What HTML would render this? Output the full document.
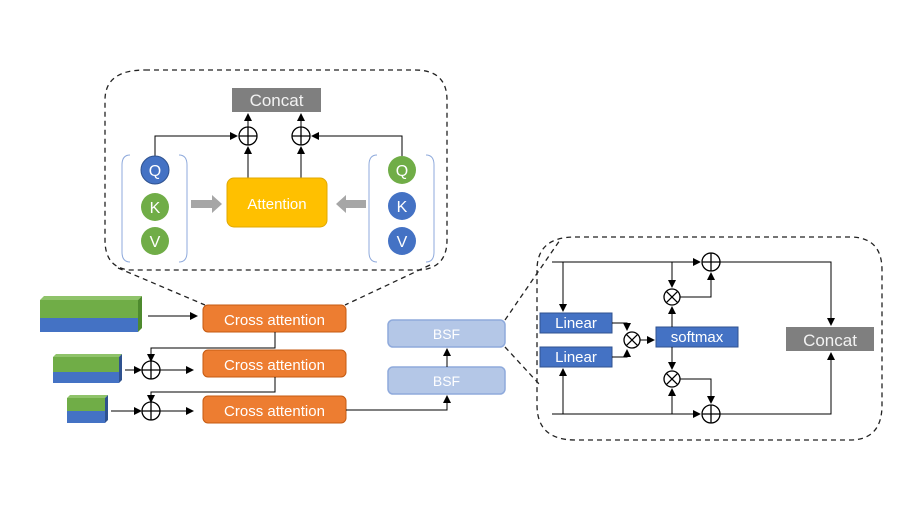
<!DOCTYPE html><html><head><style>body{margin:0;background:#fff}svg{display:block}text{font-family:"Liberation Sans","Noto Sans CJK SC",sans-serif}</style></head><body>
<svg width="897" height="505" viewBox="0 0 897 505" xmlns="http://www.w3.org/2000/svg">
<defs><marker id="a" markerWidth="8" markerHeight="8" refX="7" refY="4" orient="auto" markerUnits="userSpaceOnUse"><path d="M0,0L8,4L0,8z" fill="#000"/></marker>
<g id="pl"><circle r="9" fill="#fff" stroke="#000" stroke-width="1.3"/><path d="M-9,0H9M0,-9V9" stroke="#000" stroke-width="1.3"/></g>
<g id="ml"><circle r="8" fill="#fff" stroke="#000" stroke-width="1.3"/><path d="M-5.6,-5.6L5.6,5.6M5.6,-5.6L-5.6,5.6" stroke="#000" stroke-width="1.3"/></g></defs>
<g fill="none" stroke="#222" stroke-width="1.3" stroke-dasharray="5,4">
<path d="M145,70H415Q447,70 447,100V240Q447,268 420,270H130Q105,268 105,240V100Q105,70 145,70"/>
<path d="M118,268L205,305M430,265L345,305"/>
<path d="M575,237H850Q882,237 882,270V405Q882,440 850,440H575Q537,440 537,405V270Q537,237 575,237"/>
<path d="M505,320L560,240M505,347L540,385"/></g>
<rect x="232" y="88" width="89" height="24" fill="#7f7f7f"/><text x="276.5" y="106" font-size="17" fill="#f2f2f2" text-anchor="middle">Concat</text>
<g stroke="#000" stroke-width="1" fill="none">
<path d="M248,178V147" marker-end="url(#a)"/><path d="M301,178V147" marker-end="url(#a)"/>
<path d="M248,127V114" marker-end="url(#a)"/><path d="M301,127V114" marker-end="url(#a)"/>
<path d="M155,156V136H237" marker-end="url(#a)"/><path d="M402,156V136H312" marker-end="url(#a)"/></g>
<use href="#pl" x="248" y="136"/><use href="#pl" x="301" y="136"/>
<rect x="227" y="178" width="100" height="49" rx="7" fill="#ffc000" stroke="#e0a800"/><text x="277" y="209" font-size="15" fill="#fff" text-anchor="middle">Attention</text>
<g fill="none" stroke="#8faadc" stroke-width="1"><path d="M130,155Q122,155 122,165V252Q122,262 130,262M179,155Q187,155 187,165V252Q187,262 179,262M377,155Q369,155 369,165V252Q369,262 377,262M426,155Q434,155 434,165V252Q434,262 426,262"/></g>
<path d="M191,200H212V195L222,204L212,213V208H191z" fill="#a6a6a6"/><path d="M366,200H346V195L336,204L346,213V208H366z" fill="#a6a6a6"/>
<g font-size="16" fill="#fff" text-anchor="middle">
<circle cx="155" cy="170" r="14" fill="#4472c4" stroke="#2f528f"/><text x="155" y="176">Q</text>
<circle cx="155" cy="207" r="14" fill="#70ad47"/><text x="155" y="213">K</text>
<circle cx="155" cy="241" r="14" fill="#70ad47"/><text x="155" y="247">V</text>
<circle cx="402" cy="170" r="14" fill="#70ad47"/><text x="402" y="176">Q</text>
<circle cx="402" cy="206" r="14" fill="#4472c4"/><text x="402" y="212">K</text>
<circle cx="402" cy="241" r="14" fill="#4472c4"/><text x="402" y="247">V</text></g>
<g>
<path d="M40,300L44,296H142L138,300z" fill="#8fc36a"/><rect x="40" y="300" width="98" height="18" fill="#70ad47"/><path d="M138,300L142,296V328L138,332z" fill="#4e8a2e"/><rect x="40" y="318" width="98" height="14" fill="#4472c4"/>
<path d="M53,357L56,354H122L119,357z" fill="#8fc36a"/><rect x="53" y="357" width="66" height="15" fill="#70ad47"/><path d="M119,357L122,354V380L119,383z" fill="#2f528f"/><rect x="53" y="372" width="66" height="11" fill="#4472c4"/>
<path d="M67,398L70,395H108L105,398z" fill="#8fc36a"/><rect x="67" y="398" width="38" height="13" fill="#70ad47"/><path d="M105,398L108,395V420L105,423z" fill="#2f528f"/><rect x="67" y="411" width="38" height="12" fill="#4472c4"/></g>
<g font-size="15" fill="#fff" text-anchor="middle">
<rect x="203" y="305" width="143" height="27" rx="5" fill="#ed7d31" stroke="#c55a11"/><text x="274.5" y="325">Cross attention</text>
<rect x="203" y="350" width="143" height="27" rx="5" fill="#ed7d31" stroke="#c55a11"/><text x="274.5" y="370">Cross attention</text>
<rect x="203" y="396" width="143" height="27" rx="5" fill="#ed7d31" stroke="#c55a11"/><text x="274.5" y="416">Cross attention</text>
<rect x="388" y="320" width="117" height="27" rx="5" fill="#b4c7e7" stroke="#8faadc" stroke-width="1.5"/><text x="446.5" y="339" font-size="14">BSF</text>
<rect x="388" y="367" width="117" height="27" rx="5" fill="#b4c7e7" stroke="#8faadc" stroke-width="1.5"/><text x="446.5" y="386" font-size="14">BSF</text></g>
<g stroke="#000" stroke-width="1" fill="none">
<path d="M148,316H197" marker-end="url(#a)"/>
<path d="M275,332V348H151V361" marker-end="url(#a)"/><path d="M275,377V392H151V402" marker-end="url(#a)"/>
<path d="M125,370H141" marker-end="url(#a)"/><path d="M111,411H141" marker-end="url(#a)"/>
<path d="M160,370H193" marker-end="url(#a)"/><path d="M160,411H193" marker-end="url(#a)"/>
<path d="M346,410H447V396" marker-end="url(#a)"/><path d="M447,367V349" marker-end="url(#a)"/></g>
<use href="#pl" x="151" y="370"/><use href="#pl" x="151" y="411"/>
<g font-size="15" fill="#fff" text-anchor="middle">
<rect x="540" y="313" width="72" height="20" fill="#4472c4" stroke="#2f528f"/><text x="576" y="328">Linear</text>
<rect x="540" y="347" width="72" height="20" fill="#4472c4" stroke="#2f528f"/><text x="576" y="362">Linear</text>
<rect x="656" y="327" width="82" height="20" fill="#4472c4" stroke="#2f528f"/><text x="697" y="342">softmax</text>
<rect x="786" y="327" width="88" height="24" fill="#7f7f7f"/><text x="830" y="346" font-size="17" fill="#f2f2f2">Concat</text></g>
<g stroke="#000" stroke-width="1" fill="none">
<path d="M552,262H700" marker-end="url(#a)"/><path d="M552,414H700" marker-end="url(#a)"/>
<path d="M563,262V311" marker-end="url(#a)"/><path d="M563,414V369" marker-end="url(#a)"/>
<path d="M612,323H627V330" marker-end="url(#a)"/><path d="M612,357H627V350" marker-end="url(#a)"/>
<path d="M640,340H654" marker-end="url(#a)"/>
<path d="M672,262V287" marker-end="url(#a)"/><path d="M672,327V307" marker-end="url(#a)"/>
<path d="M672,347V369" marker-end="url(#a)"/><path d="M672,414V389" marker-end="url(#a)"/>
<path d="M680,297H711V273" marker-end="url(#a)"/><path d="M680,379H711V403" marker-end="url(#a)"/>
<path d="M720,262H831V325" marker-end="url(#a)"/><path d="M720,414H831V353" marker-end="url(#a)"/></g>
<use href="#pl" x="711" y="262"/><use href="#pl" x="711" y="414"/>
<use href="#ml" x="632" y="340"/><use href="#ml" x="672" y="297"/><use href="#ml" x="672" y="379"/>
</svg></body></html>
